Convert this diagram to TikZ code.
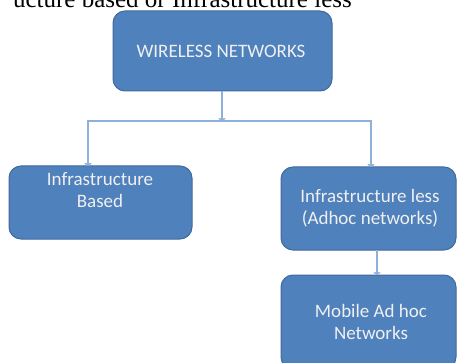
\documentclass[tikz,border=0pt]{standalone}
\usepackage{fontspec}
\setmainfont{Carlito}
\newfontfamily\capfont{Liberation Serif}
\usetikzlibrary{arrows.meta,calc}
\definecolor{boxfill}{HTML}{4F81BD}
\definecolor{boxedge}{HTML}{3F6A9E}
\definecolor{linkblue}{HTML}{8FB0DB}
\tikzset{
  netbox/.style={draw=boxedge, line width=1pt, fill=boxfill, rounded corners=12pt},
  boxtext/.style={text=white!94!black, align=center, font=\fontsize{19}{22}\selectfont, inner sep=0pt},
  link/.style={draw=linkblue, line width=1.4pt, -{To[length=3pt,width=7pt]}},
  plainlink/.style={draw=linkblue, line width=1.4pt}
}
\begin{document}
\begin{tikzpicture}[x=1pt,y=-1pt]
\useasboundingbox (0,0) rectangle (457,363);
\clip (0,0) rectangle (457,363);
\fill[white] (0,0) rectangle (457,363);
% clipped caption line at the top
\node[anchor=base east, inner sep=0pt, font=\capfont\fontsize{25}{28}\selectfont] (cap) at (352,7.5) {ucture based or Infrastructure less};
% boxes
\path[netbox] (113,11) rectangle (332,91);
\node[boxtext] (top) at (221,51) {WIRELESS NETWORKS};
\coordinate (topS) at (222,91);
\path[netbox] (9,166) rectangle (192,239);
\node[boxtext] (left) at (100,190) {Infrastructure\\Based};
\coordinate (leftN) at (88,166);
\path[netbox] (281,167) rectangle (456,250);
\node[boxtext] (right) at (370,208) {Infrastructure less\\(Adhoc networks)};
\coordinate (rightN) at (371,167);
\coordinate (rightS) at (377,250);
\path[netbox] (281,275) rectangle (456,369);
\node[boxtext] (bottom) at (371,322) {Mobile Ad hoc\\Networks};
\coordinate (bottomN) at (377,275);
% connectors
\coordinate (j) at (222,121);
\draw[link] (topS) -- (j);
\draw[plainlink] (88,121) -- (371,121);
\draw[link] (j) -| (leftN);
\draw[link] (j) -| (rightN);
\draw[link] (rightS) -- (bottomN);
\end{tikzpicture}
\end{document}
